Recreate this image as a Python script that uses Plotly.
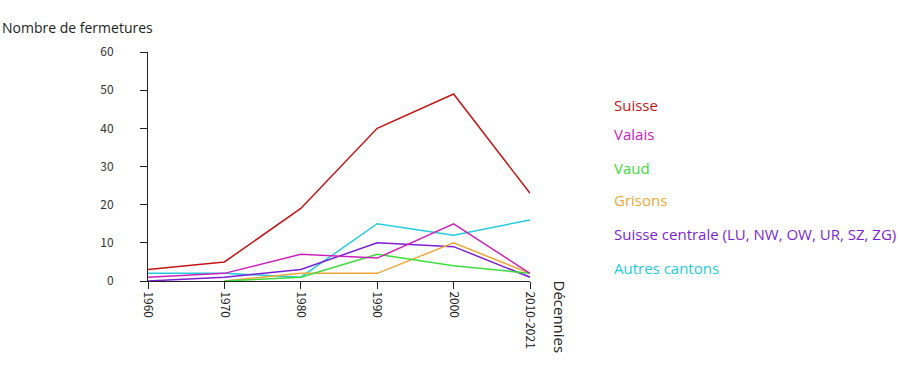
import plotly.graph_objects as go

decades = ["1960", "1970", "1980", "1990", "2000", "2010-2021"]

suisse = [3, 5, 19, 40, 49, 23]
valais = [1, 2, 7, 6, 15, 2]
vaud = [None, 0, 1, 7, 4, 2]
grisons = [None, 0, 2, 2, 10, 2]
suisse_centrale = [0, 1, 3, 10, 9, 1]
autres = [2, 2, 1, 15, 12, 16]

series_names = ["Suisse", "Valais", "Vaud", "Grisons",
                "Suisse centrale (LU, NW, OW, UR, SZ, ZG)", "Autres cantons"]
series_values = [suisse, valais, vaud, grisons, suisse_centrale, autres]
colors = ["#c41414", "#cc22bb", "#3ddc3d", "#eea83a", "#7b1fd2", "#22ccdd"]
legend_y_px = [105, 134, 168, 200, 234, 268]

W, H = 900, 381
L, R, T, B = 148, 370, 52, 100

fig = go.Figure()
for name, vals, col in reversed(list(zip(series_names, series_values, colors))):
    fig.add_trace(go.Scatter(
        x=decades, y=vals, mode="lines", name=name,
        line=dict(color=col, width=1.5), connectgaps=False,
        showlegend=False, hoverinfo="x+y+name",
    ))

tick_font = "Noto Sans CJK JP, Noto Sans, sans-serif"
text_font = "Open Sans, Noto Sans, sans-serif"

fig.update_layout(
    width=W, height=H,
    margin=dict(l=L, r=R, t=T, b=B, pad=0),
    paper_bgcolor="white", plot_bgcolor="white",
    font=dict(family=tick_font, size=12, color="#333"),
    xaxis=dict(
        type="category", range=[0, 5], showgrid=False, zeroline=False,
        showline=True, linecolor="#222", linewidth=1,
        ticks="outside", ticklen=7, tickcolor="#222",
        tickangle=90, tickfont=dict(size=12, color="#222"),
    ),
    yaxis=dict(
        range=[0, 60], tickvals=[0, 10, 20, 30, 40, 50, 60],
        showgrid=False, zeroline=False,
        showline=True, linecolor="#222", linewidth=1,
        ticks="outside", ticklen=7, tickcolor="#222",
        ticklabelstandoff=24, tickfont=dict(size=12, color="#333"),
    ),
)

annotations = []
plot_w = W - L - R
plot_h = H - T - B
for name, col, ypx in zip(series_names, colors, legend_y_px):
    annotations.append(dict(
        xref="paper", yref="paper",
        x=(612 - L) / plot_w, y=(H - B - ypx) / plot_h,
        text=name, showarrow=False, xanchor="left", yanchor="middle",
        font=dict(size=15, color=col, family=text_font),
    ))

annotations.append(dict(
    xref="paper", yref="paper", x=(0 - L) / plot_w, y=(H - B - 27) / plot_h,
    text="Nombre de fermetures", showarrow=False, xanchor="left", yanchor="middle",
    font=dict(size=14, color="#222", family=text_font),
))
annotations.append(dict(
    xref="paper", yref="paper", x=(560 - L) / plot_w, y=(H - B - 278) / plot_h,
    text="Décennies", showarrow=False, textangle=90, xanchor="center", yanchor="top",
    font=dict(size=15, color="#222", family=text_font),
))
fig.update_layout(annotations=annotations)

fig.write_html("out.html", config={"displayModeBar": False},
               post_script="document.body.style.margin='0';")
